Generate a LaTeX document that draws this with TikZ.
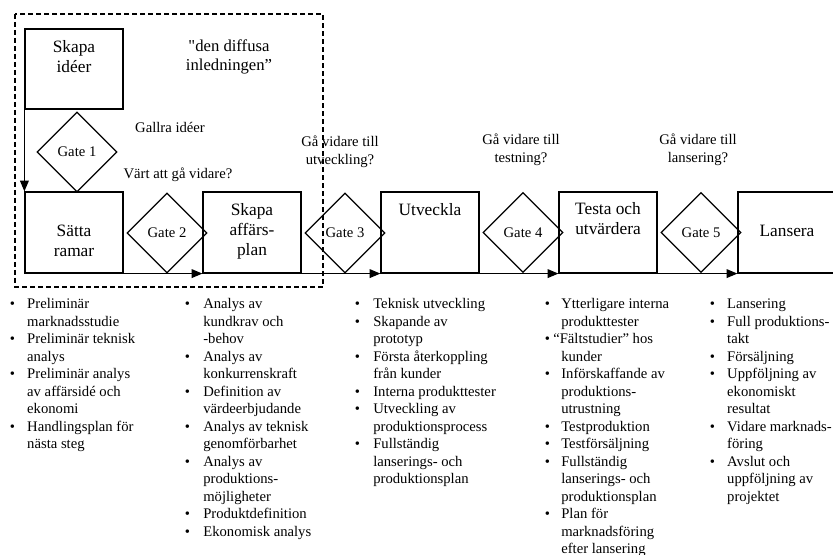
\documentclass[tikz,border=0pt]{standalone}
\usepackage{fontspec}
\setmainfont{Liberation Serif}[Ligatures=TeXOff]
\usetikzlibrary{shapes.geometric,arrows.meta}
\begin{document}
\begin{tikzpicture}[x=0.75pt,y=-0.75pt,
  box/.style={draw,line width=0.9pt,minimum width=73.5pt,minimum height=60.75pt,inner sep=0pt},
  gate/.style={draw,diamond,aspect=1,line width=0.9pt,minimum width=60pt,minimum height=60pt,inner sep=0pt,font=\fontsize{11pt}{13pt}\selectfont},
  boxtext/.style={align=center,font=\fontsize{13pt}{15pt}\selectfont,inner sep=0pt},
  note/.style={align=center,font=\fontsize{11pt}{13.5pt}\selectfont,inner sep=0pt},
  arr/.style={line width=0.9pt,-{Triangle[length=8pt,width=6.5pt]}},
  blist/.style={anchor=base west,inner sep=0pt,font=\fontsize{11pt}{13.1pt}\selectfont},
  frame/.style={draw,line width=1.1pt,dash pattern=on 3.75pt off 2.25pt}]
\useasboundingbox (0,0) rectangle (833,555);

% dashed frame
\draw[frame] (15,14) rectangle (323,287);

% boxes
\node[box,minimum height=60pt] (ideer) at (74,69) {};
\node[box] (ramar) at (74,232.5) {};
\node[box] (affar) at (252,232.5) {};
\node[box] (utv) at (430,232.5) {};
\node[box] (testa) at (608,232.5) {};
\node[box,minimum width=78pt] (lans) at (790,232.5) {};

% box texts
\node[boxtext] (tideer) at (74,57) {Skapa\\idéer};
\node[boxtext] (tramar) at (74,241) {Sätta\\ramar};
\node[boxtext] (taffar) at (252,231) {Skapa\\affärs-\\plan};
\node[boxtext] (tutv) at (430,210) {Utveckla};
\node[boxtext] (ttesta) at (608,219) {Testa och\\utvärdera};
\node[boxtext] (tlans) at (787,231) {Lansera};

% gates
\node[gate] (g1) at (77,152) {Gate 1};
\node[gate] (g2) at (167,233) {Gate 2};
\node[gate] (g3) at (345,233) {Gate 3};
\node[gate] (g4) at (523,232.5) {Gate 4};
\node[gate] (g5) at (701,232.5) {Gate 5};

% notes
\node[align=center,inner sep=0pt,font=\fontsize{12.5pt}{14.5pt}\selectfont] (diffus) at (229,57) {"den diffusa\\inledningen”};
\node[note] (gallra) at (170,127) {Gallra idéer};
\node[note] (vart) at (178,175) {Värt att gå vidare?};
\node[note] (q3) at (340,152) {Gå vidare till\\utveckling?};
\node[note] (q4) at (521,150) {Gå vidare till\\testning?};
\node[note] (q5) at (698,150) {Gå vidare till\\lansering?};

% connectors
\draw[arr] (ideer.south west) -- (ramar.north west);
\draw[arr] (ramar.south east) -- (affar.south west);
\draw[arr] (affar.south east) -- (utv.south west);
\draw[arr] (utv.south east) -- (testa.south west);
\draw[arr] (testa.south east) -- (lans.south west);

% bullet lists
\node[blist] (l1) at (9.5,309) {\begin{tabular}[t]{@{}p{13.1pt}@{}l@{}}
\textbullet & Preliminär\\
 & marknadsstudie\\
\textbullet & Preliminär teknisk\\
 & analys\\
\textbullet & Preliminär analys\\
 & av affärsidé och\\
 & ekonomi\\
\textbullet & Handlingsplan för\\
 & nästa steg
\end{tabular}};

\node[blist] (l2) at (184.5,309) {\begin{tabular}[t]{@{}p{13.9pt}@{}l@{}}
\textbullet & Analys av\\
 & kundkrav och\\
 & -behov\\
\textbullet & Analys av\\
 & konkurrenskraft\\
\textbullet & Definition av\\
 & värdeerbjudande\\
\textbullet & Analys av teknisk\\
 & genomförbarhet\\
\textbullet & Analys av\\
 & produktions-\\
 & möjligheter\\
\textbullet & Produktdefinition\\
\textbullet & Ekonomisk analys
\end{tabular}};

\node[blist] (l3) at (354.5,309) {\begin{tabular}[t]{@{}p{13.9pt}@{}l@{}}
\textbullet & Teknisk utveckling\\
\textbullet & Skapande av\\
 & prototyp\\
\textbullet & Första återkoppling\\
 & från kunder\\
\textbullet & Interna produkttester\\
\textbullet & Utveckling av\\
 & produktionsprocess\\
\textbullet & Fullständig\\
 & lanserings- och\\
 & produktionsplan
\end{tabular}};

\node[blist] (l4) at (544.5,309) {\begin{tabular}[t]{@{}p{12.4pt}@{}l@{}}
\textbullet & Ytterligare interna\\
 & produkttester\\
\textbullet & \hspace{-6pt}“Fältstudier” hos\\
 & kunder\\
\textbullet & Införskaffande av\\
 & produktions-\\
 & utrustning\\
\textbullet & Testproduktion\\
\textbullet & Testförsäljning\\
\textbullet & Fullständig\\
 & lanserings- och\\
 & produktionsplan\\
\textbullet & Plan för\\
 & marknadsföring\\
 & efter lansering
\end{tabular}};

\node[blist] (l5) at (709.5,309) {\begin{tabular}[t]{@{}p{13.1pt}@{}l@{}}
\textbullet & Lansering\\
\textbullet & Full produktions-\\
 & takt\\
\textbullet & Försäljning\\
\textbullet & Uppföljning av\\
 & ekonomiskt\\
 & resultat\\
\textbullet & Vidare marknads-\\
 & föring\\
\textbullet & Avslut och\\
 & uppföljning av\\
 & projektet
\end{tabular}};
\end{tikzpicture}
\end{document}
